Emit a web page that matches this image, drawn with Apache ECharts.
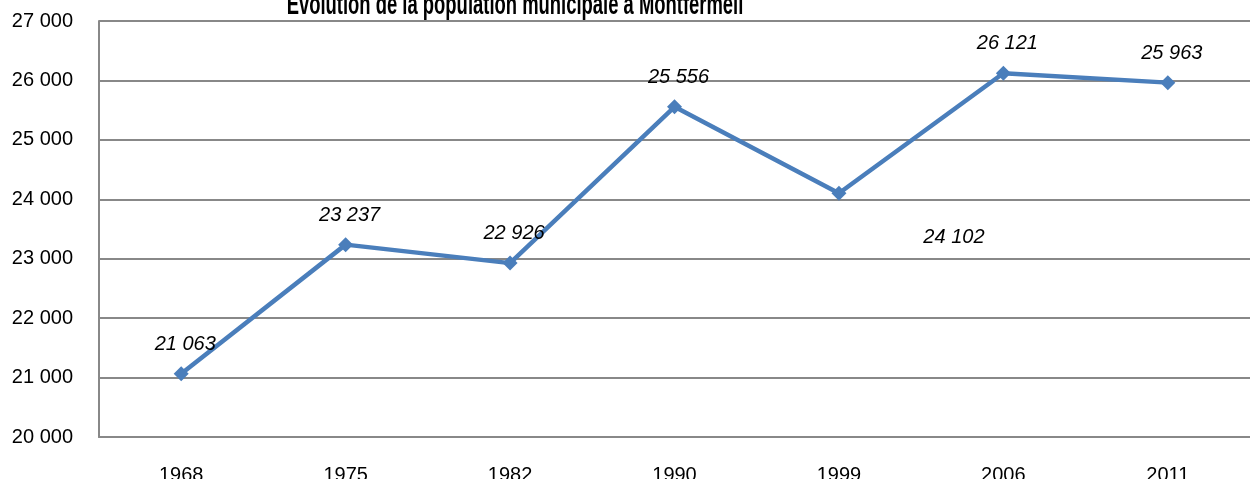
<!DOCTYPE html>
<html>
<head>
<meta charset="utf-8">
<script src="https://cdn.jsdelivr.net/npm/echarts@6/dist/echarts.min.js"></script>
<style>
  html, body { margin: 0; padding: 0; background: #fff; }
  #popChart { width: 1250px; height: 479px; }
</style>
</head>
<body>
<div id="popChart"></div>
<script>
// données : population municipale de Montfermeil
const years = ['1968', '1975', '1982', '1990', '1999', '2006', '2011'];
const population = [21063, 23237, 22926, 25556, 24102, 26121, 25963];
const yTicks = [20000, 21000, 22000, 23000, 24000, 25000, 26000, 27000];

const fmt = v => String(v).replace(/\B(?=(\d{3})+(?!\d))/g, ' ');
const gridColor = '#888888';
const font = 'Liberation Sans, Arial, sans-serif';

let myChart = echarts.init(document.getElementById('popChart'));

// le libellé de 1999 est décalé à droite et sous le point
const points = population.map((v, i) => {
    if (years[i] === '1999') {
        return { value: v, label: { offset: [115, 74] } };
    }
    return v;
});

myChart.setOption({
    animation: false,
    // titre coupé en haut, comme sur l'image d'origine
    graphic: [
        {
            type: 'text',
            x: 515,
            y: 21,
            originX: 0,
            originY: 0,
            scaleX: 0.97,
            scaleY: 1.6,
            style: {
                text: 'Évolution de la population municipale à Montfermeil',
                font: 'bold 19px Liberation Sans, Arial, sans-serif',
                fill: '#000',
                align: 'center',
                verticalAlign: 'bottom'
            }
        }
    ],
    grid: { left: 99, right: 0, top: 21, bottom: 42, containLabel: false, outerBoundsMode: 'none' },
    xAxis: {
        type: 'category',
        data: years,
        boundaryGap: true,
        axisLine: { lineStyle: { color: gridColor, width: 2 } },
        axisTick: { show: false },
        axisLabel: {
            margin: 28,
            fontFamily: font,
            fontSize: 20,
            color: '#000'
        }
    },
    yAxis: {
        type: 'value',
        min: yTicks[0],
        max: yTicks[yTicks.length - 1],
        interval: 1000,
        axisLine: { show: true, lineStyle: { color: gridColor, width: 2 } },
        axisTick: { show: false },
        splitLine: { lineStyle: { color: gridColor, width: 2 } },
        axisLabel: {
            margin: 26,
            formatter: v => fmt(v),
            fontFamily: font,
            fontSize: 20,
            color: '#000'
        }
    },
    series: [
        {
            name: 'Population',
            type: 'line',
            data: points,
            symbol: 'diamond',
            symbolSize: 15,
            lineStyle: { color: '#4a7ebb', width: 4.5 },
            itemStyle: { color: '#4a7ebb' },
            label: {
                show: true,
                position: 'top',
                distance: 12,
                offset: [4, 0],
                formatter: p => fmt(p.value),
                fontFamily: font,
                fontSize: 20,
                fontStyle: 'italic',
                color: '#000'
            }
        }
    ]
});
</script>
</body>
</html>
